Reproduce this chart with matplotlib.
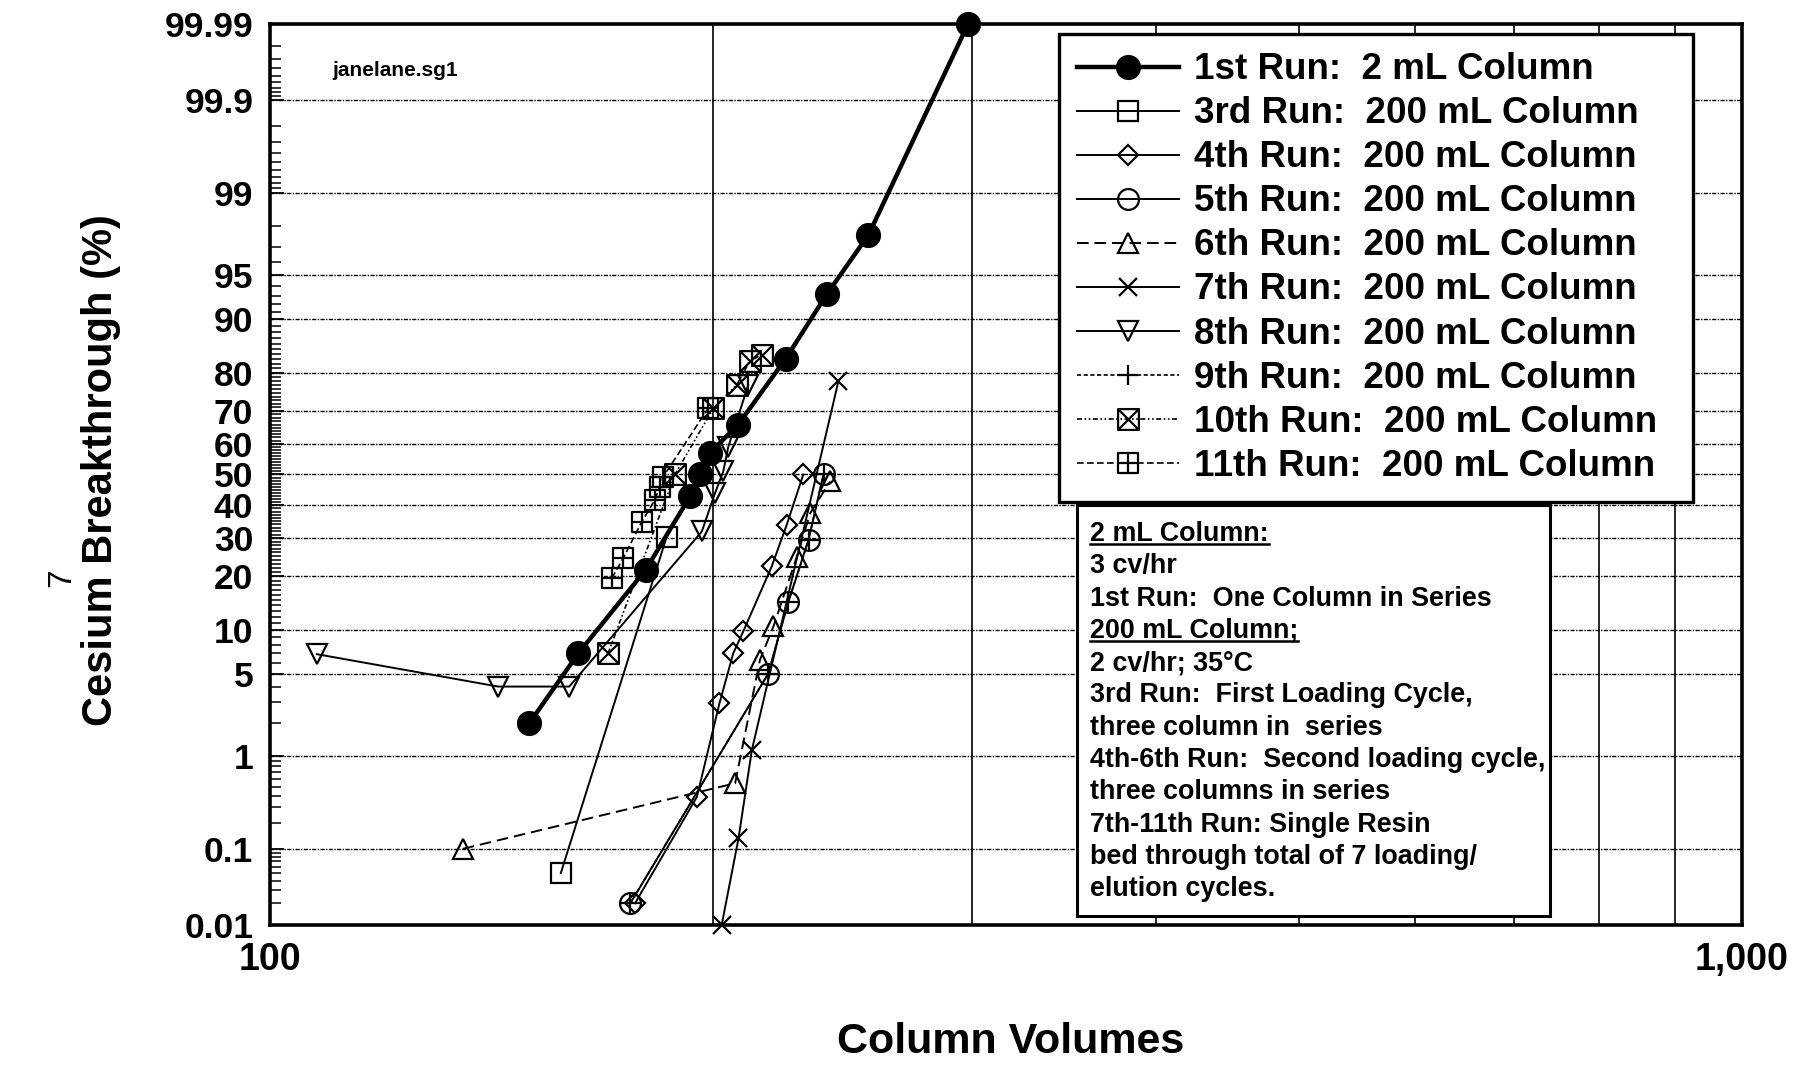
import numpy as np
import matplotlib
matplotlib.use('Agg')
import matplotlib.pyplot as plt
from matplotlib.path import Path
from matplotlib.lines import Line2D
from matplotlib.patches import Rectangle
from matplotlib.ticker import FixedLocator, NullFormatter
from statistics import NormalDist

plt.rcParams['font.family'] = ['Liberation Sans', 'DejaVu Sans']
plt.rcParams['font.weight'] = 'bold'

# ---------------- data (column volumes, % breakthrough) ----------------
run1_x = [150, 162, 180, 193, 196, 199, 208, 224, 239, 255, 298]
run1_y = [2.0, 7.0, 21.6, 43, 50, 57, 66, 83, 93.2, 97.6, 99.99]
run3_x = [157.6, 186]
run3_y = [0.05, 30.4]
run4_x = [177, 195, 202, 206.4, 209.7, 219.2, 224.4, 230.3]
run4_y = [0.02, 0.39, 2.95, 7.0, 9.8, 22.4, 33.9, 50]
run5_x = [175.7, 218, 225, 232.2, 237.7]
run5_y = [0.02, 5.0, 14.7, 29.5, 50]
run6_x = [135.2, 207, 215.2, 219.8, 228, 232.8, 240.2]
run6_y = [0.1, 0.54, 6.3, 10.5, 24.9, 37.5, 47.7]
run7_x = [202.7, 208.1, 212.5, 243.3]
run7_y = [0.01, 0.133, 1.15, 77.9]
run8_x = [107.6, 142.9, 159.7, 196.5, 200.6, 203.2, 204.8, 211.3]
run8_y = [6.9, 4.0, 4.0, 31.9, 43.9, 51, 59, 77]
run9_x = [175.7, 218, 225, 232.2, 237.7]
run9_y = [0.02, 5.0, 14.7, 29.5, 50]
run10_x = [169.7, 188.4, 200.1, 207.5, 211.8, 215.8]
run10_y = [7.0, 50, 70.8, 77, 82.5, 83.9]
run11_x = [170.7, 173.8, 178.9, 182.6, 184, 185, 198.5]
run11_y = [19.6, 24.5, 34.9, 41.7, 46, 49.3, 70.8]

labels = ["1st Run:  2 mL Column",
          "3rd Run:  200 mL Column",
          "4th Run:  200 mL Column",
          "5th Run:  200 mL Column",
          "6th Run:  200 mL Column",
          "7th Run:  200 mL Column",
          "8th Run:  200 mL Column",
          "9th Run:  200 mL Column",
          "10th Run:  200 mL Column",
          "11th Run:  200 mL Column"]

y_ticks = [0.01, 0.1, 1, 5, 10, 20, 30, 40, 50, 60, 70, 80, 90, 95, 99, 99.9, 99.99]
y_ticklabels = ["0.01", "0.1", "1", "5", "10", "20", "30", "40", "50", "60",
                "70", "80", "90", "95", "99", "99.9", "99.99"]
x_ticks = [100, 1000]
x_ticklabels = ["100", "1,000"]

note_lines = ["2 mL Column:",
              "3 cv/hr",
              "1st Run:  One Column in Series",
              "200 mL Column;",
              "2 cv/hr; 35°C",
              "3rd Run:  First Loading Cycle,",
              "three column in  series",
              "4th-6th Run:  Second loading cycle,",
              "three columns in series",
              "7th-11th Run: Single Resin",
              "bed through total of 7 loading/",
              "elution cycles."]
underlined = [0, 3]

# ---------------- probability scale ----------------
_nd = NormalDist()
def _fwd(p):
    p = np.asarray(p, dtype=float)
    q = np.clip(p / 100.0, 1e-9, 1 - 1e-9)
    return np.vectorize(_nd.inv_cdf, otypes=[float])(q)

def _inv(z):
    z = np.asarray(z, dtype=float)
    return np.vectorize(_nd.cdf, otypes=[float])(z) * 100.0

W, H = 1796, 1065
fig = plt.figure(figsize=(W / 100, H / 100), dpi=100)
ax = fig.add_axes([270 / W, 1 - 925 / H, (1742 - 270) / W, (925 - 24) / H])
ax.set_xscale('log')
ax.set_yscale('function', functions=(_fwd, _inv))
ax.set_xlim(100, 1000)
ax.set_ylim(0.01, 99.99)

# markers with inner cross
M, L, C = Path.MOVETO, Path.LINETO, Path.CLOSEPOLY
sq_v = [(-1, -1), (1, -1), (1, 1), (-1, 1), (-1, -1)]
sq_c = [M, L, L, L, C]
box_x = Path(sq_v + [(-1, -1), (1, 1), (-1, 1), (1, -1)], sq_c + [M, L, M, L])
box_p = Path(sq_v + [(0, -1), (0, 1), (-1, 0), (1, 0)], sq_c + [M, L, M, L])

series = [
    (run1_x, run1_y, dict(marker='o', ms=16.5, mfc='black', lw=3.2, ls='-')),
    (run3_x, run3_y, dict(marker='s', ms=15, mfc='none', lw=1.4, ls='-')),
    (run4_x, run4_y, dict(marker='D', ms=10, mfc='none', lw=1.4, ls='-')),
    (run5_x, run5_y, dict(marker='o', ms=15, mfc='none', lw=1.4, ls='-')),
    (run6_x, run6_y, dict(marker='^', ms=15, mfc='none', lw=1.4, ls=(0, (6, 3)))),
    (run7_x, run7_y, dict(marker='x', ms=13, mfc='none', lw=1.4, ls='-')),
    (run8_x, run8_y, dict(marker='v', ms=15, mfc='none', lw=1.4, ls='-')),
    (run9_x, run9_y, dict(marker='+', ms=14, mfc='none', lw=1.2, ls=(0, (2.5, 1.5)))),
    (run10_x, run10_y, dict(marker=box_x, ms=15, mfc='none', lw=1.2, ls=(0, (3, 1.5, 1, 1.5, 1, 1.5)))),
    (run11_x, run11_y, dict(marker=box_p, ms=15, mfc='none', lw=1.2, ls=(0, (4, 2)))),
]
handles = []
for (xs, ys, st), lab in zip(series, labels):
    h, = ax.plot(xs, ys, color='black', mec='black', mew=1.6, clip_on=False,
                 zorder=5, label=lab, **st)
    handles.append(h)

# ticks & grid
ax.set_yticks(y_ticks)
ax.set_yticklabels(y_ticklabels)
minor = list(np.round(np.arange(0.02, 0.1, 0.01), 3)) + list(np.round(np.arange(0.2, 1.0, 0.1), 2)) + \
        [2, 3, 4, 6, 7, 8, 9] + [v for v in range(11, 90) if v % 10 != 0] + \
        [91, 92, 93, 94, 96, 97, 98] + list(np.round(np.arange(99.1, 99.9, 0.1), 2)) + \
        list(np.round(np.arange(99.91, 99.99, 0.01), 3))
ax.yaxis.set_minor_locator(FixedLocator(minor))
ax.yaxis.set_minor_formatter(NullFormatter())
ax.set_xticks(x_ticks)
ax.set_xticklabels(x_ticklabels)
ax.xaxis.set_minor_locator(FixedLocator([200, 300, 400, 500, 600, 700, 800, 900]))
ax.xaxis.set_minor_formatter(NullFormatter())

ax.tick_params(axis='y', which='major', direction='in', length=10, width=1.3,
               labelsize=25.5, pad=12)
ax.tick_params(axis='y', which='minor', direction='in', length=8, width=1.1)
ax.tick_params(axis='x', which='major', length=0, labelsize=27, pad=12)
ax.tick_params(axis='x', which='minor', length=0)
for lab in ax.get_xticklabels() + ax.get_yticklabels():
    lab.set_fontweight('bold')

ax.grid(True, axis='y', which='major', color='black', lw=1.0, ls=(0, (3, 1, 1, 1)), zorder=0)
ax.grid(True, axis='x', which='minor', color='black', lw=1.2, ls='-', zorder=0)
ax.set_axisbelow(True)
for sp in ax.spines.values():
    sp.set_linewidth(2.6)

# legend
leg = ax.legend(handles=handles, loc='upper left', mode='expand',
                bbox_to_anchor=(1059 / W, 1 - 498 / H, (1693 - 1059) / W, (498 - 34) / H),
                bbox_transform=fig.transFigure,
                fontsize=26.5, frameon=True, fancybox=False, edgecolor='black',
                framealpha=1, borderpad=0.5, labelspacing=0.245,
                handlelength=2.77, handletextpad=0.4, borderaxespad=0)
leg.get_frame().set_linewidth(2.4)
leg.set_zorder(20)
for t in leg.get_texts():
    t.set_fontweight('bold')

# note box
fig.patches.append(Rectangle((1077 / W, 1 - 916 / H), (1550 - 1077) / W, (916 - 505) / H,
                             transform=fig.transFigure, facecolor='white',
                             edgecolor='black', lw=2.2, zorder=3))
note_texts = []
for i, line in enumerate(note_lines):
    t = fig.text(1090 / W, 1 - (534 + i * 32.3) / H, line, ha='left', va='center',
                 fontsize=19.4, fontweight='bold', zorder=4)
    note_texts.append(t)

# axis labels and extra text
fig.text(101 / W, 1 - 470 / H, "Cesium Breakthrough (%)", rotation=90,
         ha='center', va='center', fontsize=30, fontweight='bold')
fig.text(1011 / W, 1 - 1042 / H, "Column Volumes", ha='center', va='center',
         fontsize=31, fontweight='bold')
fig.text(332 / W, 1 - 71 / H, "janelane.sg1", ha='left', va='center',
         fontsize=15, fontweight='bold')
fig.text(62 / W, 1 - 578 / H, "7", rotation=90, ha='center', va='center',
         fontsize=24, fontweight='normal')

# underline the two headings
fig.canvas.draw()
r = fig.canvas.get_renderer()
for i in underlined:
    bb = note_texts[i].get_window_extent(r)
    y = bb.y0 + 3
    fig.lines.append(Line2D([bb.x0 / W, bb.x1 / W], [y / H, y / H],
                            transform=fig.transFigure, color='black', lw=1.8, zorder=5))

fig.savefig('out.png', dpi=100)
